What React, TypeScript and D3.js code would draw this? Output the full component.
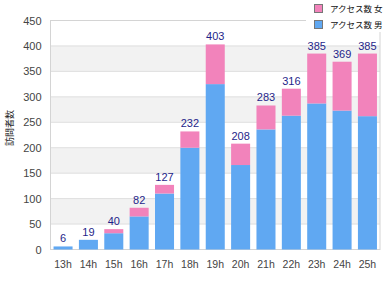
import * as d3 from "d3";
import { useEffect, useRef } from "react";

// hours shown on the x axis
const hours = ["13h", "14h", "15h", "16h", "17h", "18h", "19h", "20h", "21h", "22h", "23h", "24h", "25h"];
// bottom (blue) series
const maleCounts = [6, 19, 32, 65, 110, 200, 325, 166, 236, 263, 287, 273, 262];
// top (pink) series
const femaleCounts = [0, 0, 8, 17, 17, 32, 78, 42, 47, 53, 98, 96, 123];
const yTicks = [0, 50, 100, 150, 200, 250, 300, 350, 400, 450];
const legendLabels = ["アクセス数 女", "アクセス数 男"];
const yLabel = "訪問者数";

export default function App() {
  const ref = useRef<SVGSVGElement>(null);

  useEffect(() => {
    const width = 390;
    const height = 300;
    const m = { left: 50.5, right: 10, top: 20.5, bottom: 50.5 };
    const blue = "#60a8f2";
    const pink = "#f283bb";

    const svg = d3.select(ref.current);
    svg.selectAll("*").remove();
    svg.attr("width", width).attr("height", height);

    const x = d3.scaleBand()
      .domain(hours)
      .range([m.left, width - m.right])
      .paddingInner(0.25)
      .paddingOuter(0.12);

    const y = d3.scaleLinear()
      .domain([0, 450])
      .range([height - m.bottom, m.top]);

    // alternating bands
    const bands = d3.range(0, yTicks.length - 1).filter(i => i % 2 === 1);
    svg.append("g")
      .selectAll("rect")
      .data(bands)
      .enter()
      .append("rect")
      .attr("x", m.left)
      .attr("y", i => y(yTicks[i + 1]))
      .attr("width", width - m.right - m.left)
      .attr("height", i => y(yTicks[i]) - y(yTicks[i + 1]))
      .attr("fill", "#f2f2f2");

    // grid lines
    svg.append("g")
      .selectAll("line")
      .data(yTicks)
      .enter()
      .append("line")
      .attr("x1", m.left)
      .attr("x2", width - m.right)
      .attr("y1", d => y(d))
      .attr("y2", d => y(d))
      .attr("stroke", "#dedede");

    // frame
    svg.append("rect")
      .attr("x", m.left)
      .attr("y", m.top)
      .attr("width", width - m.right - m.left)
      .attr("height", y(0) - m.top)
      .attr("fill", "none")
      .attr("stroke", "#d4d4d4");

    const data = hours.map((h, i) => ({ h, male: maleCounts[i], female: femaleCounts[i], total: maleCounts[i] + femaleCounts[i] }));

    svg.append("g")
      .selectAll("rect")
      .data(data)
      .enter()
      .append("rect")
      .attr("x", d => x(d.h)!)
      .attr("y", d => y(d.male))
      .attr("width", x.bandwidth())
      .attr("height", d => y(0) - y(d.male))
      .attr("fill", blue);

    svg.append("g")
      .selectAll("rect")
      .data(data.filter(d => d.female > 0))
      .enter()
      .append("rect")
      .attr("x", d => x(d.h)!)
      .attr("y", d => y(d.total))
      .attr("width", x.bandwidth())
      .attr("height", d => y(d.male) - y(d.total))
      .attr("fill", pink);

    svg.append("g")
      .selectAll("text")
      .data(data)
      .enter()
      .append("text")
      .attr("x", d => x(d.h)! + x.bandwidth() / 2)
      .attr("y", d => y(d.total) - 4)
      .attr("text-anchor", "middle")
      .attr("font-family", "Liberation Sans, Arial, sans-serif")
      .attr("font-size", 11)
      .attr("fill", "#1f1f8a")
      .text(d => d.total);

    // y tick labels
    svg.append("g")
      .selectAll("text")
      .data(yTicks)
      .enter()
      .append("text")
      .attr("x", m.left - 9)
      .attr("y", d => y(d) + 4)
      .attr("text-anchor", "end")
      .attr("font-family", "Liberation Sans, Arial, sans-serif")
      .attr("font-size", 11)
      .attr("fill", "#444")
      .text(d => d);

    // x tick labels
    svg.append("g")
      .selectAll("text")
      .data(hours)
      .enter()
      .append("text")
      .attr("x", d => x(d)! + x.bandwidth() / 2)
      .attr("y", y(0) + 18)
      .attr("text-anchor", "middle")
      .attr("font-family", "Liberation Sans, Arial, sans-serif")
      .attr("font-size", 10.5)
      .attr("fill", "#444")
      .text(d => d);

    svg.append("text")
      .attr("transform", `translate(13,128) rotate(-90)`)
      .attr("text-anchor", "middle")
      .attr("font-family", "Noto Sans CJK JP, sans-serif")
      .attr("font-size", 9)
      .attr("fill", "#222")
      .text(yLabel);

    // legend
    const lg = svg.append("g");
    lg.append("rect")
      .attr("x", 306)
      .attr("y", 0)
      .attr("width", 84)
      .attr("height", 32)
      .attr("fill", "#fff");
    const items = lg.selectAll("g")
      .data(legendLabels)
      .enter()
      .append("g")
      .attr("transform", (d, i) => `translate(314,${4 + i * 16})`);
    items.append("rect")
      .attr("x", 0.5)
      .attr("y", 0.5)
      .attr("width", 8)
      .attr("height", 8)
      .attr("fill", (d, i) => (i === 0 ? pink : blue))
      .attr("stroke", "#777");
    items.append("text")
      .attr("x", 16)
      .attr("y", 8)
      .attr("font-family", "Noto Sans CJK JP, sans-serif")
      .attr("font-size", 8.5)
      .attr("fill", "#111")
      .text(d => d);
  }, []);

  return <svg ref={ref} style={{ position: "absolute", left: 0, top: 0 }} />;
}
